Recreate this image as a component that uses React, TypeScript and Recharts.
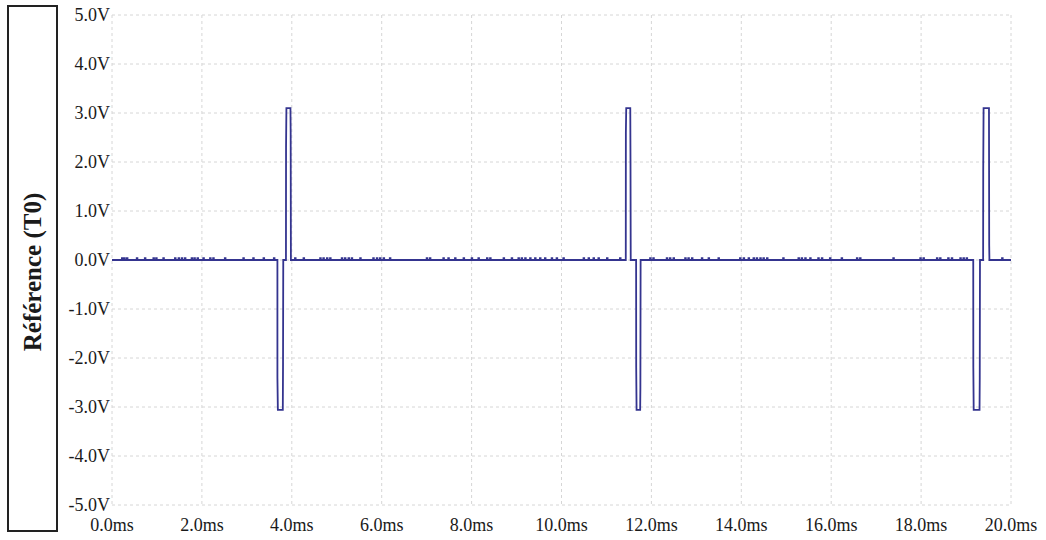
import React from "react";
import { LineChart, Line, XAxis, YAxis, CartesianGrid } from "recharts";

// Tick values
const xTicks = [0, 2, 4, 6, 8, 10, 12, 14, 16, 18, 20];
const yTicks = [-5, -4, -3, -2, -1, 0, 1, 2, 3, 4, 5];

// Pulse waveform samples (time ms, volts)
const pulse1: [number, number][] = [
  [3.68, 0], [3.68, -2.4], [3.69, -3.06], [3.8, -3.06], [3.805, -2.1], [3.81, 0],
  [3.87, 0], [3.872, 2.3], [3.88, 3.1], [3.97, 3.1], [3.975, 2.6], [3.98, 0],
];
const pulse2: [number, number][] = [
  [11.43, 0], [11.432, 2.6], [11.44, 3.1], [11.53, 3.1], [11.535, 2.0], [11.54, 0],
  [11.66, 0], [11.662, -2.2], [11.67, -3.06], [11.75, -3.06], [11.755, -2.6], [11.76, 0],
];
const pulse3: [number, number][] = [
  [19.16, 0], [19.162, -2.2], [19.17, -3.06], [19.3, -3.06], [19.305, -2.4], [19.31, 0],
  [19.38, 0], [19.382, 1.8], [19.39, 3.1], [19.51, 3.1], [19.515, 0.3], [19.52, 0],
];

// Small baseline glitches (time ms)
const glitchTimes = [
  0.22, 0.27, 0.33, 0.55, 0.73, 0.92, 0.98, 1.14, 1.4, 1.48, 1.55, 1.62, 1.77, 1.83, 1.9,
  2.03, 2.18, 2.25, 2.51, 2.92, 3.14, 3.37, 3.6,
  4.07, 4.26, 4.63, 4.7, 4.78, 4.85, 5.11, 5.18, 5.26, 5.33, 5.52, 5.81, 5.89, 5.96, 6.04,
  6.18, 7.0, 7.07, 7.37, 7.48, 7.63, 7.82,
  8.0, 8.15, 8.34, 8.41, 8.71, 8.89, 9.04, 9.11, 9.19, 9.3, 9.41, 9.52, 9.63, 9.78, 9.89,
  10.04, 10.49, 10.6, 10.71, 10.82, 11.01, 11.3,
  11.97, 12.04, 12.34, 12.41, 12.49, 12.75, 12.82, 12.9, 13.12, 13.27, 13.49, 13.97, 14.05,
  14.16, 14.27, 14.34, 14.42, 14.49, 14.57, 14.93, 15.27, 15.34, 15.42,
  15.53, 15.71, 15.79, 15.97, 16.23, 16.57, 16.64, 17.38, 17.98, 18.05, 18.35, 18.42, 18.6,
  18.68, 18.87, 18.94, 19.01, 19.8,
];
const glitchHeight = 0.04;
const glitchWidth = 0.015;

const buildData = () => {
  const pts: { t: number; v: number; o: number }[] = [];
  let o = 0;
  const push = (t: number, v: number) => pts.push({ t, v, o: o++ });
  push(0, 0);
  glitchTimes.forEach((g) => {
    push(g, 0);
    push(g, glitchHeight);
    push(g + glitchWidth, glitchHeight);
    push(g + glitchWidth, 0);
  });
  [...pulse1, ...pulse2, ...pulse3].forEach(([t, v]) => push(t, v));
  push(20, 0);
  pts.sort((a, b) => a.t - b.t || a.o - b.o);
  return pts.map(({ t, v }) => ({ t, v }));
};

const data = buildData();

const tickStyle = { fontFamily: "'Liberation Serif', 'Times New Roman', serif", fontSize: 18, fill: "#1a1a1a" };

export default function App() {
  return (
    <div style={{ position: "fixed", left: 0, top: 0, width: 1046, height: 540, background: "#fff" }}>
      <LineChart width={1046} height={540} data={data} margin={{ top: 15, right: 35, bottom: 0, left: 0 }}>
        <CartesianGrid stroke="#d6d6d6" strokeDasharray="3 3" />
        <XAxis
          dataKey="t"
          type="number"
          domain={[0, 20]}
          ticks={xTicks}
          interval={0}
          axisLine={false}
          tickLine={false}
          tickSize={0}
          tickMargin={13}
          height={35}
          tick={tickStyle}
          tickFormatter={(v: number) => `${v.toFixed(1)}ms`}
        />
        <YAxis
          type="number"
          domain={[-5, 5]}
          ticks={yTicks}
          interval={0}
          axisLine={false}
          tickLine={false}
          tickSize={0}
          tickMargin={2}
          width={112}
          tick={tickStyle}
          tickFormatter={(v: number) => `${v.toFixed(1)}V`}
        />
        <Line
          type="linear"
          dataKey="v"
          stroke="#34348f"
          strokeWidth={1.8}
          dot={false}
          isAnimationActive={false}
        />
      </LineChart>
      <div
        style={{
          position: "absolute",
          left: 7,
          top: 5,
          width: 51,
          height: 527,
          border: "2px solid #222",
          boxSizing: "border-box",
          background: "#fff",
        }}
      >
        <span
          style={{
            position: "absolute",
            left: "50%",
            top: 265,
            transform: "translate(-50%, -50%) rotate(-90deg)",
            whiteSpace: "nowrap",
            fontFamily: "'Liberation Serif', 'Times New Roman', serif",
            fontWeight: "bold",
            fontSize: 25,
            color: "#1a1a1a",
          }}
        >
          Référence (T0)
        </span>
      </div>
    </div>
  );
}
